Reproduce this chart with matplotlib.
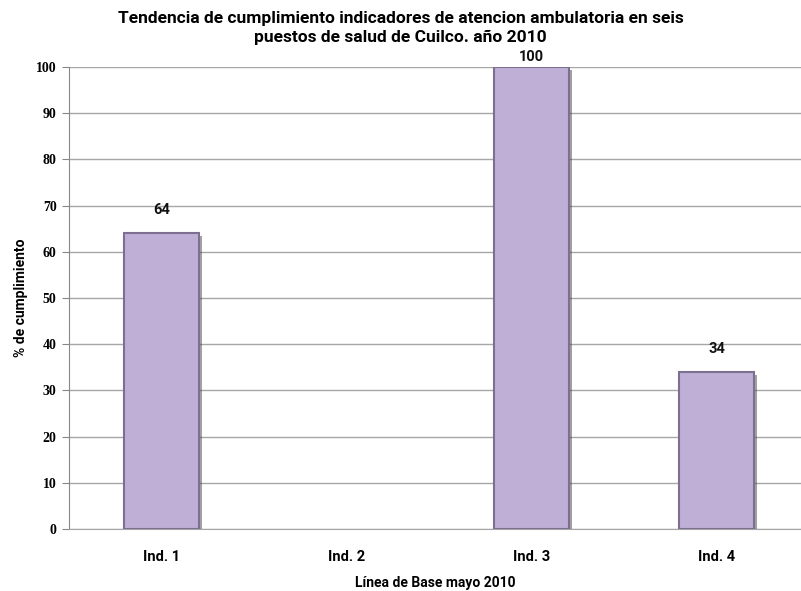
import matplotlib
matplotlib.use('Agg')
import matplotlib.pyplot as plt
import matplotlib.patheffects as pe

categorias = ['Ind. 1', 'Ind. 2', 'Ind. 3', 'Ind. 4']
valores = [64, 0, 100, 34]
etiquetas = ['64', '', '100', '34']
yticks = list(range(0, 101, 10))

fam = ['Roboto', 'DejaVu Sans']
serif = ['Liberation Serif', 'DejaVu Serif']

fig = plt.figure(figsize=(8.01, 5.91), dpi=100)
ax = fig.add_axes([69 / 801, 1 - 529 / 591, 1 - 69 / 801, (529 - 67) / 591])

x = range(len(categorias))
bars = ax.bar(x, valores, width=0.41, color='#bfaed6', edgecolor='#7d6f8f', linewidth=1.5,
              zorder=3)
for b, v in zip(bars, valores):
    if v == 0:
        b.set_visible(False)
    b.set_path_effects([pe.SimplePatchShadow(offset=(2, -2), shadow_rgbFace='#444444', alpha=0.5),
                        pe.Normal()])

for xi, v, t in zip(x, valores, etiquetas):
    if t:
        off = 3.5 if v < 100 else 0.6
        ax.text(xi, v + off, t, ha='center', va='bottom', fontsize=10.5, fontweight='bold',
                family=fam, color='#111111', clip_on=False)

ax.set_xlim(-0.5, -0.5 + 732 / 185)
ax.set_ylim(0, 100)
ax.set_yticks(yticks)
ax.set_yticklabels([str(t) for t in yticks], family=serif, fontweight='bold', fontsize=10)
ax.set_xticks(list(x))
ax.set_xticklabels(categorias, family=fam, fontweight='bold', fontsize=10.5)
ax.tick_params(axis='x', length=0, pad=15)
ax.tick_params(axis='y', length=5, color='#888888', pad=4)
ax.grid(axis='y', color='#a6a6a6', linewidth=1, zorder=0)
for s in ['top', 'right']:
    ax.spines[s].set_visible(False)
ax.spines['left'].set_color('#888888')
ax.spines['bottom'].set_color('#a6a6a6')

ax.set_xlabel('Línea de Base mayo 2010', family=fam, fontweight='bold', fontsize=10, labelpad=9)
ax.set_ylabel('% de cumplimiento', family=fam, fontweight='bold', fontsize=10, labelpad=6)

fig.text(0.5, 1 - 28 / 591, 'Tendencia de cumplimiento indicadores de atencion ambulatoria en seis\n'
         'puestos de salud de Cuilco. año 2010', ha='center', va='center', fontsize=12.5,
         fontweight='bold', family=fam, linespacing=1.35)

fig.savefig('out.png', dpi=100)
